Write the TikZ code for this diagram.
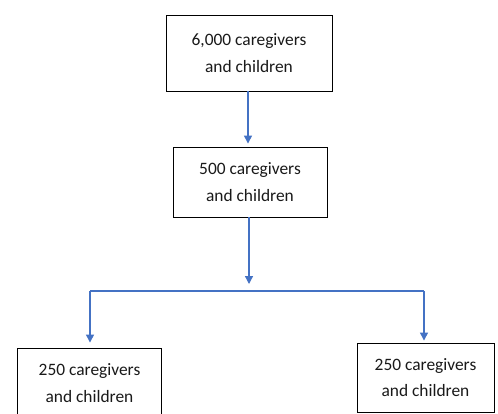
\documentclass[tikz,border=0pt]{standalone}
\usepackage{fontspec}
\setmainfont{Carlito}
\usetikzlibrary{arrows.meta}
\definecolor{linkblue}{RGB}{68,114,196}
\definecolor{inktext}{RGB}{25,25,25}
\tikzset{
  box/.style={draw=black, line width=0.9pt, fill=white, align=center,
    text=inktext, inner sep=0pt, font=\fontsize{17.4}{26.5}\selectfont},
  link/.style={draw=linkblue, line width=1.3pt},
  flow/.style={link, -{Triangle[length=8pt,width=8pt]}}
}
\begin{document}
\begin{tikzpicture}[x=1pt,y=-1pt]
  \useasboundingbox (0,0) rectangle (498,413);
  \clip (0,0) rectangle (498,413);
  \fill[white] (0,0) rectangle (498,413);

  % population boxes
  \node[box, minimum width=166pt, minimum height=76pt] (all)   at (249,53)    {6,000 caregivers\\and children};
  \node[box, minimum width=154pt, minimum height=70pt] (sub)   at (250,182)   {500 caregivers\\and children};
  \node[box, minimum width=144pt, minimum height=70pt] (left)  at (89.5,383)  {250 caregivers\\and children};
  \node[box, minimum width=137pt, minimum height=69pt] (right) at (425.5,377.5) {250 caregivers\\and children};

  % split line
  \coordinate (jn) at (249,291);
  \coordinate (jl) at (90,291);
  \coordinate (jr) at (424,291);

  \draw[flow, shorten >=3pt] (all.south -| 248,0) -- (sub.north -| 248,0);
  \draw[flow, shorten >=7pt] (sub.south -| jn) -- (jn);
  \draw[link] (jl) -- (jr);
  \draw[flow, shorten >=5pt] (jl) -- (jl |- left.north);
  \draw[flow, shorten >=2pt] (jr) -- (jr |- right.north);
\end{tikzpicture}
\end{document}
